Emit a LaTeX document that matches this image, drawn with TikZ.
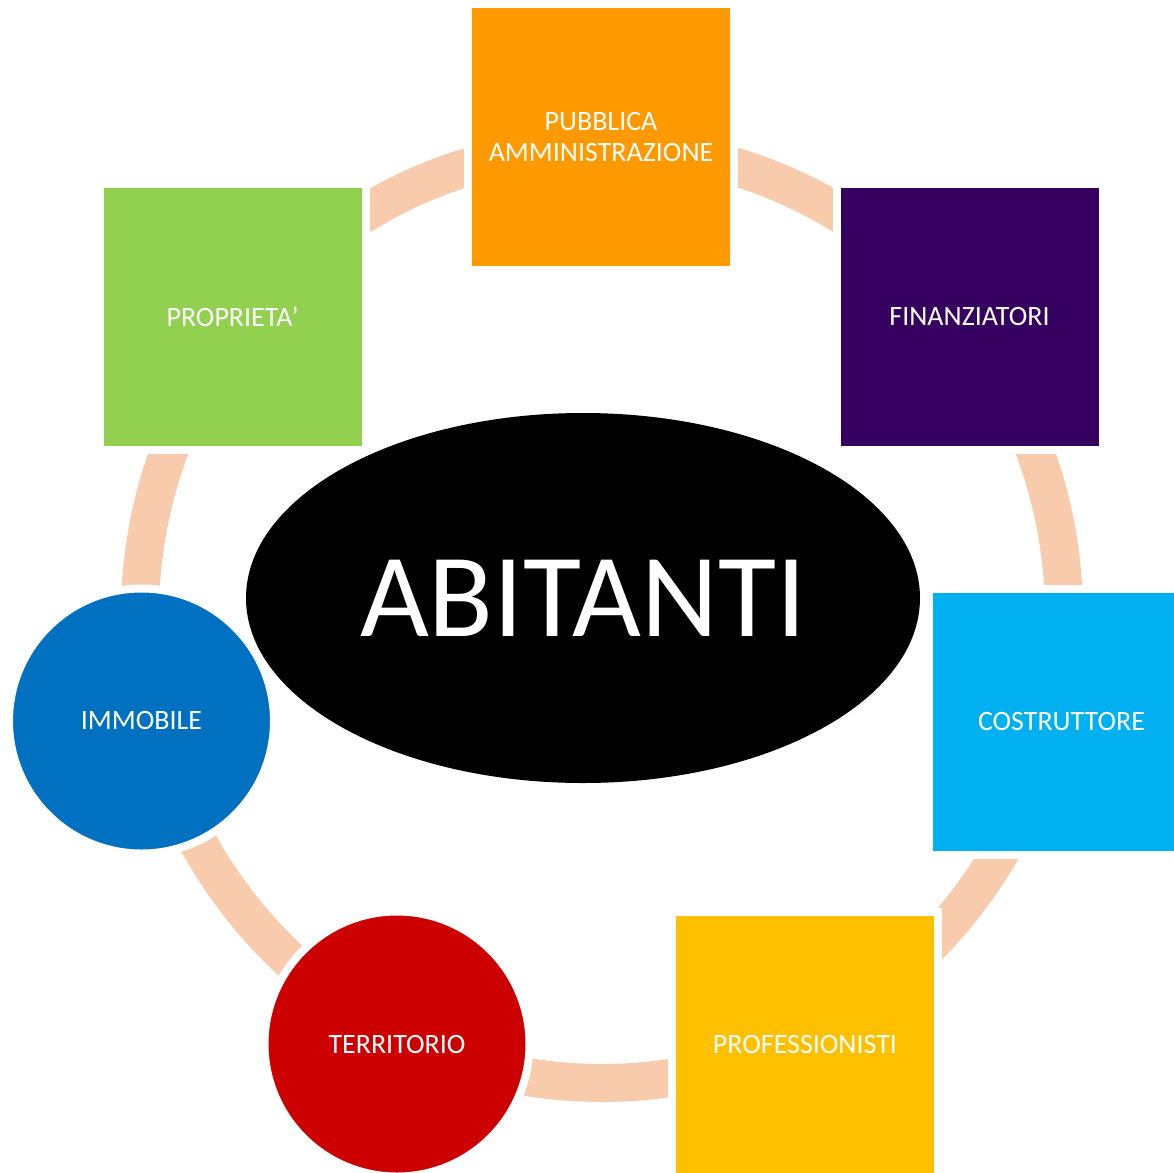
\documentclass[tikz,border=0pt]{standalone}
\usepackage{fontspec}
\setmainfont{Carlito}
\usetikzlibrary{shapes.geometric}

\definecolor{ringpeach}{RGB}{248,203,173}
\definecolor{paorange}{RGB}{255,153,0}
\definecolor{finpurple}{RGB}{54,0,96}
\definecolor{costcyan}{RGB}{0,176,240}
\definecolor{profyellow}{RGB}{255,192,0}
\definecolor{terrred}{RGB}{204,0,0}
\definecolor{immblue}{RGB}{0,112,192}
\definecolor{propgreen}{RGB}{146,208,80}

\begin{document}
\begin{tikzpicture}[x=1pt,y=1pt,yscale=-1,xscale=1,
  ring/.style={draw=ringpeach,line width=38},
  box/.style={rectangle,draw=white,line width=8,minimum size=266,inner sep=0,
    text=white,align=center,font=\fontsize{28}{31}\selectfont},
  disc/.style={circle,draw=white,line width=8,minimum size=265,inner sep=0,
    text=white,font=\fontsize{28}{31}\selectfont}]
\useasboundingbox (0,0) rectangle (1173,1173);

%Ring
\draw [ring] (602,615) ellipse [x radius=462, y radius=468];

%Centre
\node [ellipse,fill=black,minimum width=674,minimum height=370,inner sep=0,
  text=white,font=\fontsize{119}{122}\selectfont] (abitanti) at (583,598) {ABITANTI};

%Squares
\node [box,fill=paorange] (pa) at (601,137) {PUBBLICA\\AMMINISTRAZIONE};
\node [box,fill=finpurple] (fin) at (969.5,317) {FINANZIATORI};
\node [box,fill=costcyan] (cost) at (1061.5,721.5) {COSTRUTTORE};
\node [box,fill=profyellow] (prof) at (805,1044.5) {PROFESSIONISTI};
\node [box,fill=propgreen] (prop) at (232.5,317) {PROPRIETA’};

%Circles
\node [disc,fill=terrred] (terr) at (397,1044) {TERRITORIO};
\node [disc,fill=immblue] (imm) at (141.5,721) {IMMOBILE};

\end{tikzpicture}
\end{document}
